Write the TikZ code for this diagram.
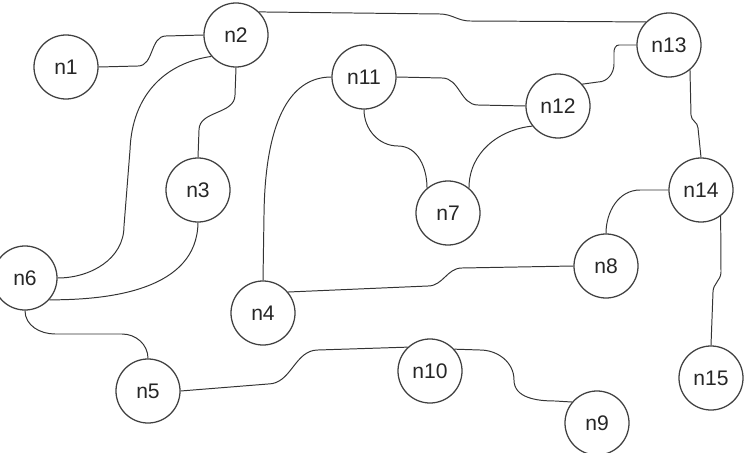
\documentclass[tikz,border=0pt]{standalone}
\usepackage{fontspec}
\setmainfont{Liberation Sans}

\begin{document}
\begin{tikzpicture}[x=0.025cm,y=-0.025cm,
        nodo/.style={draw=black!75,line width=0.9pt,circle,minimum size=1.6cm,inner sep=0pt,font=\fontsize{15}{18}\selectfont,text=black!85},
        enlace/.style={draw=black!80,line width=0.7pt}]
        \clip (0,0) rectangle (744,453);
        \node[nodo] (n1) at (66,67) {n1};
        \node[nodo] (n2) at (236,35) {n2};
        \node[nodo] (n3) at (198,190) {n3};
        \node[nodo] (n4) at (263,313) {n4};
        \node[nodo] (n5) at (148,391) {n5};
        \node[nodo] (n6) at (25,278) {n6};
        \node[nodo] (n7) at (448,213) {n7};
        \node[nodo] (n8) at (606,266) {n8};
        \node[nodo] (n9) at (597,423) {n9};
        \node[nodo] (n10) at (430,371) {n10};
        \node[nodo] (n11) at (364,77) {n11};
        \node[nodo] (n12) at (558,106) {n12};
        \node[nodo] (n13) at (669,45) {n13};
        \node[nodo] (n14) at (701,190) {n14};
        \node[nodo] (n15) at (711,378) {n15};
        \draw[enlace] (n1.east) -- (138,66) to[out=0,in=180] (166,36) -- (n2.west);
        \draw[enlace] (n2.45) -- (440,14) to[out=0,in=180] (470,21) -- (n13.135);
        \draw[enlace] (n2.221) .. controls (165,63) and (132,95) .. (130,150) -- (124,226) to[out=-90,in=0] (n6.east);
        \draw[enlace] (n2.south) -- (235,95) to[out=-90,in=90] (199,130) -- (n3.north);
        \draw[enlace] (n3.south) .. controls (197,290) and (110,300) .. (n6.-42);
        \draw[enlace] (n6.south) to[out=-90,in=180] (55,334) -- (122,334) to[out=0,in=90] (n5.north);
        \draw[enlace] (n5.east) -- (268,384) to[out=0,in=180] (318,350) -- (n10.133);
        \draw[enlace] (n10.42) -- (480,350) to[out=0,in=90] (514,380) to[out=-90,in=180] (555,401) -- (n9.140);
        \draw[enlace] (n4.north) -- (264,215) .. controls (265,125) and (288,77) .. (n11.west);
        \draw[enlace] (n4.40) -- (428,286) to[out=0,in=180] (462,268) -- (n8.west);
        \draw[enlace] (n11.east) -- (442,78) to[out=0,in=180] (478,105) -- (n12.west);
        \draw[enlace] (n11.south) to[out=-90,in=180] (398,146) to[out=0,in=90] (n7.130);
        \draw[enlace] (n12.218) to[out=186,in=90] (n7.50);
        \draw[enlace] (n12.42) -- (598,82) to[out=0,in=-90] (614,64) -- (614,52) to[out=90,in=180] (619,45) -- (n13.west);
        \draw[enlace] (n13.-50) -- (691,115) to[out=-90,in=90] (698,128) -- (n14.north);
        \draw[enlace] (n14.west) -- (640,190) to[out=180,in=90] (n8.north);
        \draw[enlace] (n14.-53) -- (721,272) to[out=-90,in=90] (713,292) -- (n15.north);
      \end{tikzpicture}
\end{document}
